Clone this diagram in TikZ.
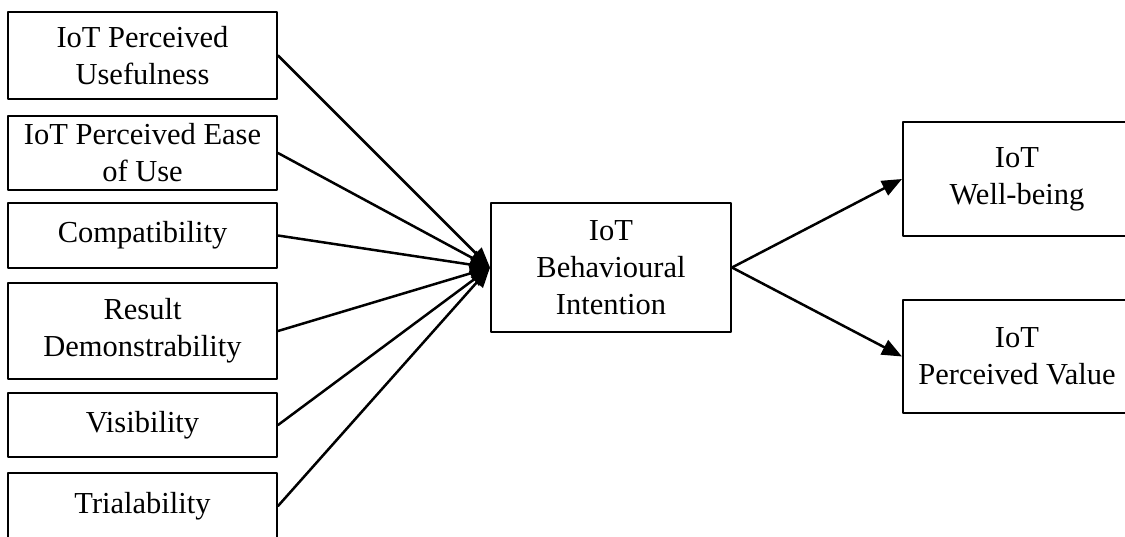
\documentclass[tikz,border=0pt]{standalone}
\usepackage{fontspec}
\setmainfont{Liberation Serif}
\usepackage{tikz}
\usetikzlibrary{arrows.meta}

\begin{document}
\begin{tikzpicture}[x=0.4pt,y=-0.4pt,line cap=round,line join=round]
    % styles
    \tikzstyle{box}=[draw=black,line width=0.8pt,align=center,inner sep=2pt,
                     font=\fontsize{12.2}{14.8}\selectfont]
    \tikzstyle{lbox}=[box,minimum width=107.6pt]
    \tikzstyle{rbox}=[box,minimum width=91.2pt]
    \tikzstyle{link}=[line width=1pt,-{Triangle[length=8pt,width=6.4pt]}]

    \useasboundingbox (0,0) rectangle (1125,536);
    \clip (0,0) rectangle (1125,536);

    % ----------------------------------------------------
    % antecedents (left column)
    % ----------------------------------------------------
    \node[lbox,minimum height=34.8pt] (usef) at (142.5,55.5) {IoT Perceived\\Usefulness};
    \node[lbox,minimum height=29.6pt] (ease) at (142.5,153) {IoT Perceived Ease\\of Use};
    \node[lbox,minimum height=26pt] (comp) at (142.5,235.5) {Compatibility};
    \node[lbox,minimum height=38.4pt] (demo) at (142.5,331) {Result\\Demonstrability};
    \node[lbox,minimum height=25.6pt] (visi) at (142.5,425) {Visibility};
    \node[lbox,minimum height=26.4pt] (tria) at (142.5,506) {Trialability};

    % ----------------------------------------------------
    % behavioural intention (middle)
    % ----------------------------------------------------
    \node[box,minimum width=96pt,minimum height=51.6pt] (intent) at (611,267.5)
        {IoT\\Behavioural\\Intention};

    % ----------------------------------------------------
    % outcomes (right column)
    % ----------------------------------------------------
    \node[rbox,minimum height=45.6pt] (well) at (1017,179) {IoT\\Well-being};
    \node[rbox,minimum height=45.2pt] (value) at (1017,356.5) {IoT\\Perceived Value};

    % paths
    \foreach \src in {usef,ease,comp,demo,visi,tria}
      \draw[link] (\src.east) -- (intent.west);
    \draw[link] (intent.east) -- (well.west);
    \draw[link] (intent.east) -- (value.west);
\end{tikzpicture}
\end{document}
